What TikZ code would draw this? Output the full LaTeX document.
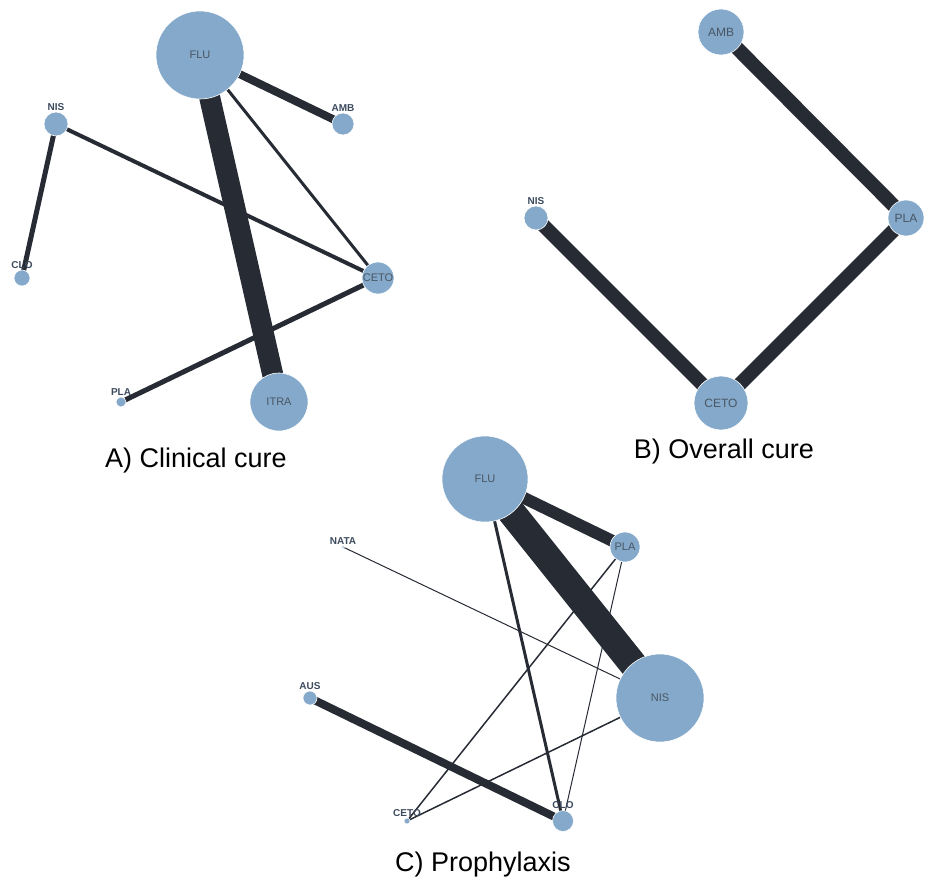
\documentclass[tikz,border=0pt]{standalone}
\usepackage{fontspec}
\setmainfont{Liberation Sans}
\usepackage{tikz}
\usetikzlibrary{backgrounds}
\definecolor{nodeblue}{HTML}{84A9CA}
\definecolor{edgedark}{HTML}{272B34}
\definecolor{intext}{HTML}{4A5663}
\definecolor{tagtext}{HTML}{3C4A5E}

\begin{document}
\begin{tikzpicture}[x=1pt,y=-1pt,
  drug/.style={circle,fill=nodeblue,draw=white,line width=0.6pt,inner sep=0pt,text=intext,font=\fontsize{11}{13}\selectfont},
  bigtext/.style={font=\fontsize{12}{14}\selectfont},
  tag/.style={text=tagtext,font=\fontsize{10}{11}\bfseries\selectfont,inner sep=1pt},
  edge/.style={draw=edgedark},
  caption/.style={font=\fontsize{27}{31}\selectfont,text=black}]
\useasboundingbox (0,0) rectangle (926,883);
\node[drug,minimum size=88pt] (aFLU) at (200,55) {FLU};
\node[drug,minimum size=22pt,label={[tag]above:AMB}] (aAMB) at (343,124) {};
\node[drug,minimum size=24pt,label={[tag]above:NIS}] (aNIS) at (56,124) {};
\node[drug,minimum size=16pt,label={[tag]above:CLO}] (aCLO) at (22,278) {};
\node[drug,minimum size=32pt] (aCETO) at (378,278) {CETO};
\node[drug,minimum size=10pt,label={[tag]above:PLA}] (aPLA) at (121,402) {};
\node[drug,minimum size=58pt] (aITRA) at (279,402) {ITRA};
\node[caption] (capA) at (196,461) {A) Clinical cure};
\node[drug,bigtext,minimum size=46pt] (bAMB) at (721,32) {AMB};
\node[drug,minimum size=24pt,label={[tag]above:NIS}] (bNIS) at (536,218) {};
\node[drug,bigtext,minimum size=36pt] (bPLA) at (906,218) {PLA};
\node[drug,bigtext,minimum size=54pt] (bCETO) at (721,403) {CETO};
\node[caption] (capB) at (724,452) {B) Overall cure};
\node[drug,minimum size=86pt] (cFLU) at (485,479) {FLU};
\node[drug,minimum size=30pt] (cPLA) at (625,547) {PLA};
\node[drug,minimum size=3pt,label={[tag]above:NATA}] (cNATA) at (343,547) {};
\node[drug,minimum size=88pt] (cNIS) at (660,698) {NIS};
\node[drug,minimum size=14pt,label={[tag]above:AUS}] (cAUS) at (310,698) {};
\node[drug,minimum size=6pt,label={[tag]above:CETO}] (cCETO) at (407,821) {};
\node[drug,minimum size=21pt,label={[tag]above:CLO}] (cCLO) at (563,821) {};
\node[caption] (capC) at (483,865) {C) Prophylaxis};
\begin{scope}[on background layer]
\draw[edge,line width=21pt] (aFLU.center) -- (aITRA.center);
\draw[edge,line width=8pt] (aFLU.center) -- (aAMB.center);
\draw[edge,line width=3pt] (aFLU.center) -- (aCETO.center);
\draw[edge,line width=4pt] (aNIS.center) -- (aCETO.center);
\draw[edge,line width=5pt] (aNIS.center) -- (aCLO.center);
\draw[edge,line width=5pt] (aCETO.center) -- (aPLA.center);
\draw[edge,line width=14pt] (bAMB.center) -- (bPLA.center);
\draw[edge,line width=14pt] (bPLA.center) -- (bCETO.center);
\draw[edge,line width=14pt] (bNIS.center) -- (bCETO.center);
\draw[edge,line width=28pt] (cFLU.center) -- (cNIS.center);
\draw[edge,line width=12pt] (cFLU.center) -- (cPLA.center);
\draw[edge,line width=3pt] (cFLU.center) -- (cCLO.center);
\draw[edge,line width=1pt] (cNATA.center) -- (cNIS.center);
\draw[edge,line width=1.5pt] (cPLA.center) -- (cCETO.center);
\draw[edge,line width=1pt] (cPLA.center) -- (cCLO.center);
\draw[edge,line width=1.5pt] (cNIS.center) -- (cCETO.center);
\draw[edge,line width=8pt] (cAUS.center) -- (cCLO.center);
\end{scope}
\end{tikzpicture}
\end{document}
